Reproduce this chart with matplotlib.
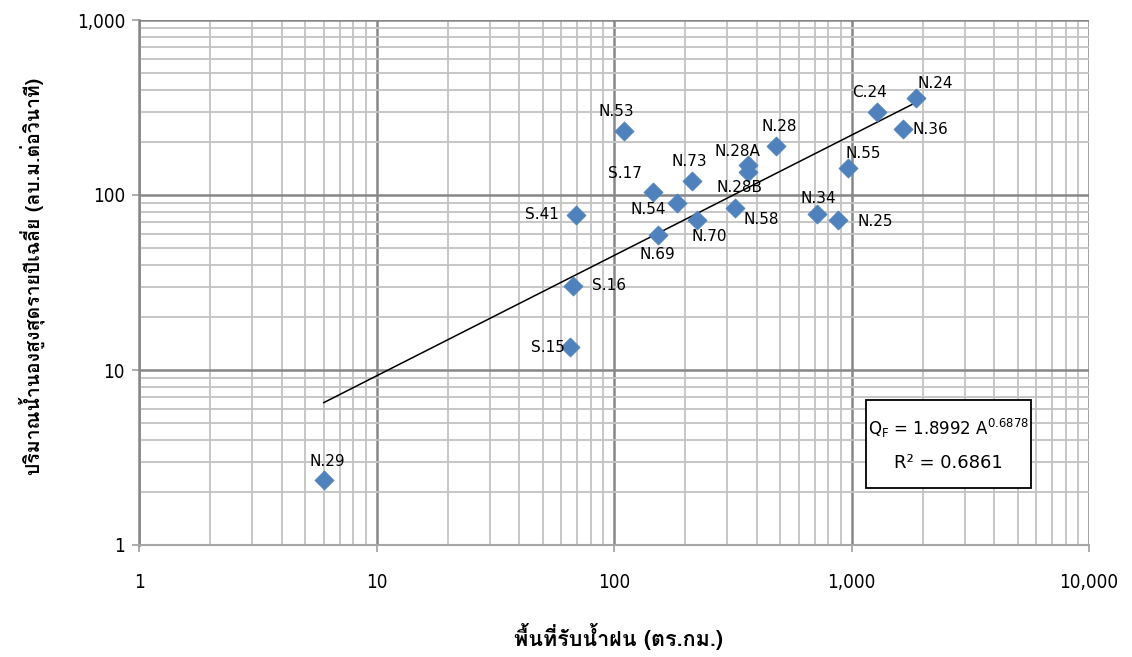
import matplotlib
matplotlib.use("Agg")
import matplotlib.pyplot as plt
from matplotlib.ticker import FixedLocator, FuncFormatter, LogLocator, NullFormatter
import numpy as np

# ---- data ----
names = ["N.29", "S.15", "S.16", "S.41", "N.53", "S.17", "N.54", "N.69", "N.73",
         "N.70", "N.58", "N.28A", "N.28B", "N.28", "N.34", "N.25", "N.55", "C.24",
         "N.36", "N.24"]
area = [6.0, 65, 67, 69, 110, 146, 184, 153, 213,
        224, 323, 366, 366, 479, 716, 880, 969, 1285,
        1652, 1870]
flow = [2.35, 13.5, 30.2, 77, 232, 104, 90, 59, 120,
        72, 84, 148, 135, 190, 77.6, 72, 143, 297,
        238, 357]
coef_a = 1.8992
coef_b = 0.6878
r2 = 0.6861
x_ticks = [1, 10, 100, 1000, 10000]
y_ticks = [1, 10, 100, 1000]
x_label = "พื้นที่รับน้ำฝน (ตร.กม.)"
y_label = "ปริมาณน้ำนองสูงสุดรายปีเฉลี่ย (ลบ.ม.ต่อวินาที)"

# label offsets in pixels (dx, dy) and horizontal alignment
label_pos = {
    "N.29": (4, 19, "center"), "S.15": (-5, 0, "right"), "S.16": (19, 0, "left"),
    "S.41": (-17, 0, "right"), "N.53": (-8, 20, "center"), "S.17": (-28, 19, "center"),
    "N.54": (-29, -6, "center"), "N.69": (0, -19, "center"), "N.73": (-3, 20, "center"),
    "N.70": (12, -17, "center"), "N.58": (26, -11, "center"), "N.28A": (-10, 14, "center"),
    "N.28B": (-8, -15, "center"), "N.28": (4, 20, "center"), "N.34": (1, 16, "center"),
    "N.25": (19, -2, "left"), "N.55": (15, 14, "center"), "C.24": (-8, 20, "center"),
    "N.36": (9, 0, "left"), "N.24": (19, 15, "center"),
}

thai_family = ["Loma", "DejaVu Sans"]

fig = plt.figure(figsize=(11.32, 6.57), dpi=100)
ax = fig.add_axes([139/1132, 1-545/657, (1089-139)/1132, (545-20)/657])
ax.set_xscale("log")
ax.set_yscale("log")
ax.set_xlim(1, 10000)
ax.set_ylim(1, 1000)

ax.xaxis.set_major_locator(FixedLocator(x_ticks))
ax.yaxis.set_major_locator(FixedLocator(y_ticks))
ax.xaxis.set_minor_locator(LogLocator(base=10, subs=np.arange(2, 10)))
ax.yaxis.set_minor_locator(LogLocator(base=10, subs=np.arange(2, 10)))
ax.xaxis.set_minor_formatter(NullFormatter())
ax.yaxis.set_minor_formatter(NullFormatter())
fmt = FuncFormatter(lambda v, p: f"{v:,.0f}")
ax.xaxis.set_major_formatter(fmt)
ax.yaxis.set_major_formatter(fmt)

ax.grid(which="minor", color="#c3c3c3", linewidth=1.3, zorder=0)
ax.grid(which="major", color="#878787", linewidth=1.8, zorder=0)
ax.set_axisbelow(True)
for s in ["top", "right"]:
    ax.spines[s].set_visible(False)
ax.spines["bottom"].set_color("#a6a6a6")
ax.spines["bottom"].set_linewidth(1.5)
ax.spines["left"].set_color("#878787")
ax.spines["left"].set_linewidth(1.8)
ax.tick_params(which="major", length=5, width=1.3, color="#a6a6a6", direction="out")
ax.tick_params(which="minor", length=0)
ax.tick_params(axis="y", labelsize=13.5, pad=5)
ax.tick_params(axis="x", labelsize=13.5, pad=15)
for lab in ax.get_xticklabels() + ax.get_yticklabels():
    lab.set_fontstretch("condensed")

# trendline
xt = np.geomspace(min(area), max(area), 100)
ax.plot(xt, coef_a * xt ** coef_b, color="black", linewidth=1.1, zorder=3)

ax.scatter(area, flow, marker="D", s=95, color="#4f81bd", edgecolors="#4f81bd",
           linewidths=0.5, zorder=4)

for n, xv, yv in zip(names, area, flow):
    dx, dy, ha = label_pos[n]
    ax.annotate(n, (xv, yv), xytext=(dx, dy), textcoords="offset pixels",
                ha=ha, va="center", fontsize=11, zorder=5)

# equation box
fig.patches.append(plt.Rectangle((866/1132, 1-488/657), (1031-866)/1132, (488-400)/657,
                                 transform=fig.transFigure, facecolor="white",
                                 edgecolor="black", linewidth=1.3, zorder=10))
fig.text((1031+866)/2/1132, 1-428/657,
         r"Q$_\mathregular{F}$ = %.4f A$^{\mathregular{%.4f}}$" % (coef_a, coef_b),
         ha="center", va="center", fontsize=12, zorder=11)
fig.text((1031+866)/2/1132, 1-463/657, "R² = %.4f" % r2,
         ha="center", va="center", fontsize=13, zorder=11)

fig.text(618/1132, 1-636/657, x_label, ha="center", va="center",
         fontsize=15.5, fontweight="bold", family=thai_family)
fig.text(32/1132, 1-276/657, y_label, ha="center", va="center", rotation=90,
         fontsize=14, fontweight="bold", family=thai_family)

fig.savefig("out.png", dpi=100)
